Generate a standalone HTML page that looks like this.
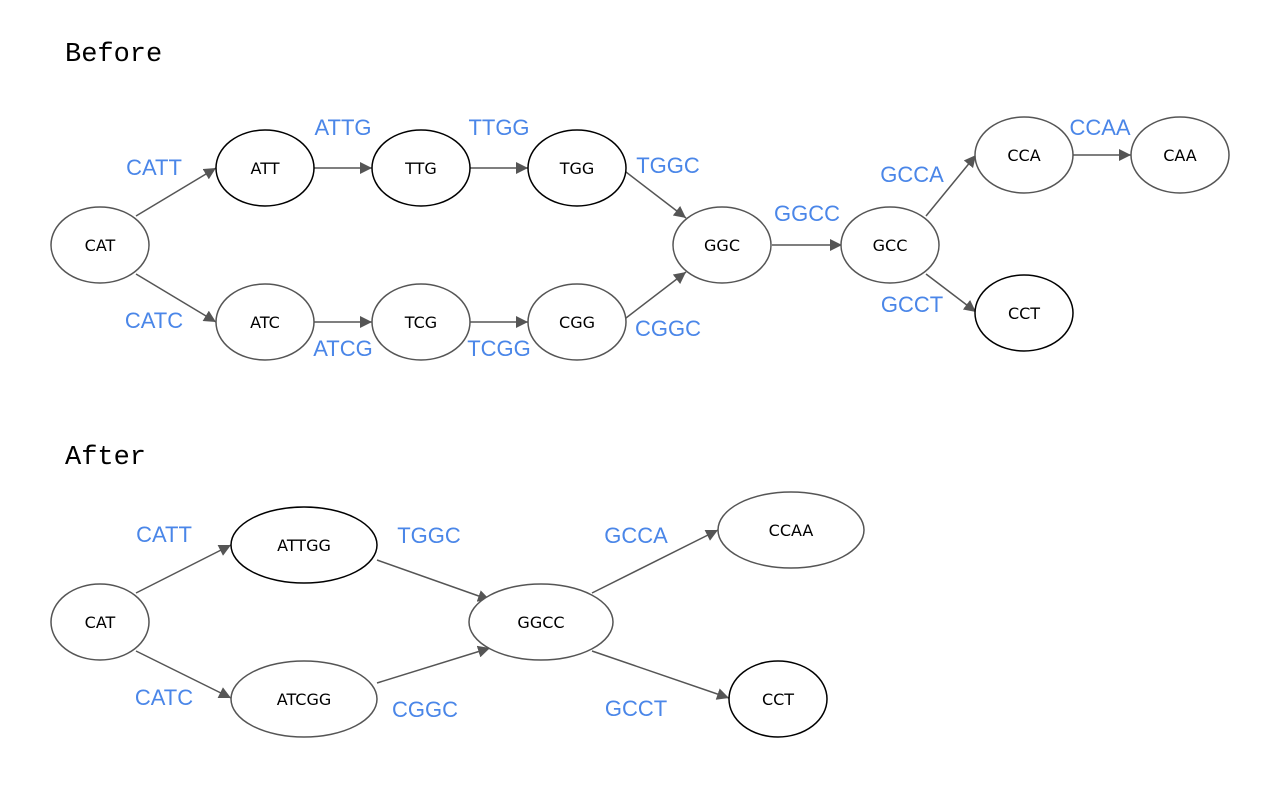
<!DOCTYPE html>
<html><head><style>body{margin:0;background:#fff}</style></head><body>
<svg width="1287" height="790" xmlns="http://www.w3.org/2000/svg">
<defs><marker id="a" viewBox="0 0 10 10" refX="10" refY="5" markerWidth="12" markerHeight="12" markerUnits="userSpaceOnUse" orient="auto"><path d="M0,0L10,5L0,10z" fill="#555"/></marker></defs>
<rect width="1287" height="790" fill="#fff"/>
<g font-family="Liberation Mono, monospace" font-size="27" fill="#000">
<text x="65" y="61">Before</text><text x="65" y="464">After</text></g>
<g stroke="#555" stroke-width="1.5" marker-end="url(#a)">
<line x1="136" y1="216" x2="216" y2="168"/><line x1="136" y1="274" x2="216" y2="322"/>
<line x1="314" y1="168" x2="372" y2="168"/><line x1="470" y1="168" x2="528" y2="168"/>
<line x1="626" y1="172" x2="686" y2="218"/><line x1="314" y1="322" x2="372" y2="322"/>
<line x1="470" y1="322" x2="528" y2="322"/><line x1="626" y1="318" x2="686" y2="272"/>
<line x1="772" y1="245" x2="842" y2="245"/><line x1="926" y1="216" x2="976" y2="155"/>
<line x1="926" y1="274" x2="976" y2="312"/><line x1="1073" y1="155" x2="1131" y2="155"/>
<line x1="136" y1="593" x2="231" y2="545"/><line x1="136" y1="651" x2="231" y2="698"/>
<line x1="377" y1="560" x2="490" y2="600"/><line x1="377" y1="683" x2="490" y2="648"/>
<line x1="592" y1="593" x2="718" y2="530"/><line x1="592" y1="651" x2="729" y2="698"/>
</g>
<g fill="#fff" stroke-width="1.5">
<ellipse cx="100" cy="245" rx="49" ry="38" stroke="#555"/>
<ellipse cx="265" cy="168" rx="49" ry="38" stroke="#000"/>
<ellipse cx="421" cy="168" rx="49" ry="38" stroke="#000"/>
<ellipse cx="577" cy="168" rx="49" ry="38" stroke="#000"/>
<ellipse cx="265" cy="322" rx="49" ry="38" stroke="#555"/>
<ellipse cx="421" cy="322" rx="49" ry="38" stroke="#555"/>
<ellipse cx="577" cy="322" rx="49" ry="38" stroke="#555"/>
<ellipse cx="722" cy="245" rx="49" ry="38" stroke="#555"/>
<ellipse cx="890" cy="245" rx="49" ry="38" stroke="#555"/>
<ellipse cx="1024" cy="155" rx="49" ry="38" stroke="#555"/>
<ellipse cx="1180" cy="155" rx="49" ry="38" stroke="#555"/>
<ellipse cx="1024" cy="313" rx="49" ry="38" stroke="#000"/>
<ellipse cx="100" cy="622" rx="49" ry="38" stroke="#555"/>
<ellipse cx="304" cy="545" rx="73" ry="38" stroke="#000"/>
<ellipse cx="304" cy="699" rx="73" ry="38" stroke="#555"/>
<ellipse cx="541" cy="622" rx="72" ry="38" stroke="#555"/>
<ellipse cx="791" cy="530" rx="73" ry="38" stroke="#555"/>
<ellipse cx="778" cy="699" rx="49" ry="38" stroke="#000"/>
</g>
<g font-family="DejaVu Sans, sans-serif" font-size="16" text-anchor="middle" fill="#000">
<text x="100" y="251">CAT</text><text x="265" y="174">ATT</text><text x="421" y="174">TTG</text>
<text x="577" y="174">TGG</text><text x="265" y="328">ATC</text><text x="421" y="328">TCG</text>
<text x="577" y="328">CGG</text><text x="722" y="251">GGC</text><text x="890" y="251">GCC</text>
<text x="1024" y="161">CCA</text><text x="1180" y="161">CAA</text><text x="1024" y="319">CCT</text>
<text x="100" y="628">CAT</text><text x="304" y="551">ATTGG</text><text x="304" y="705">ATCGG</text>
<text x="541" y="628">GGCC</text><text x="791" y="536">CCAA</text><text x="778" y="705">CCT</text>
</g>
<g font-family="Liberation Sans, sans-serif" font-size="22" text-anchor="middle" fill="#4a86e8">
<text x="154" y="175">CATT</text><text x="154" y="328">CATC</text><text x="343" y="135">ATTG</text>
<text x="499" y="135">TTGG</text><text x="668" y="173">TGGC</text><text x="343" y="356">ATCG</text>
<text x="499" y="356">TCGG</text><text x="668" y="336">CGGC</text><text x="807" y="221">GGCC</text>
<text x="912" y="182">GCCA</text><text x="912" y="312">GCCT</text><text x="1100" y="135">CCAA</text>
<text x="164" y="542">CATT</text><text x="164" y="705">CATC</text><text x="429" y="543">TGGC</text>
<text x="425" y="717">CGGC</text><text x="636" y="543">GCCA</text><text x="636" y="716">GCCT</text>
</g>
</svg>
</body></html>
